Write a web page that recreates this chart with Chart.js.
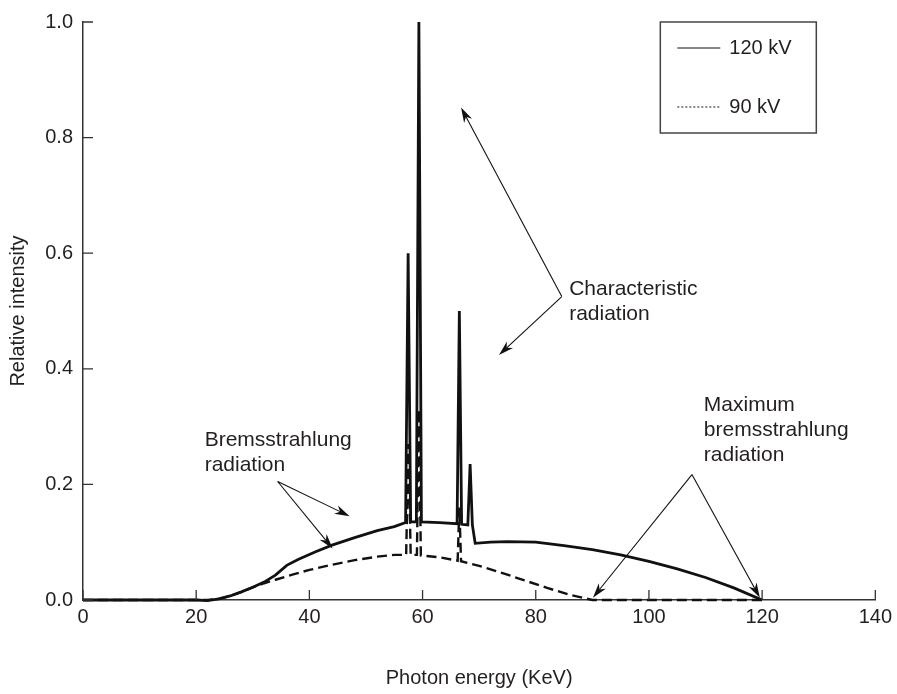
<!DOCTYPE html>
<html>
<head>
<meta charset="utf-8">
<script src="https://cdn.jsdelivr.net/npm/chart.js@4/dist/chart.umd.min.js"></script>
<style>
  html, body { margin: 0; padding: 0; background: #fff; }
  #wrap { width: 897px; height: 694px; }
</style>
</head>
<body>
<div id="wrap"><canvas id="chart" width="897" height="694"></canvas></div>
<script>
// Данные спектра (кэВ / относительная интенсивность)
const energy120 = [0, 20, 22, 24, 26, 28, 30, 32, 34, 36, 38, 41, 44, 48, 52, 55, 57.0, 57.45, 57.9, 58.9, 59.35, 59.8, 63, 66.1, 66.5, 66.9, 68.0, 68.4, 68.8, 69.3, 72, 75, 80, 85, 90, 95, 100, 105, 110, 115, 120];
const intensity120 = [0, 0, -0.001, 0.002, 0.007, 0.014, 0.022, 0.031, 0.043, 0.06, 0.07, 0.083, 0.095, 0.108, 0.12, 0.127, 0.134, 0.6, 0.135, 0.135, 1.0, 0.135, 0.134, 0.132, 0.5, 0.131, 0.13, 0.235, 0.13, 0.098, 0.1, 0.101, 0.1, 0.094, 0.087, 0.078, 0.067, 0.054, 0.039, 0.021, 0.0];

const energy90 = [0, 22, 24, 26, 28, 30, 32, 34, 37, 40, 44, 48, 52, 55, 57.1, 57.5, 57.9, 59.0, 59.35, 59.7, 63, 66.2, 66.5, 66.8, 70, 74, 78, 82, 86, 90, 120];
const intensity90 = [0, 0, 0.002, 0.007, 0.014, 0.022, 0.029, 0.035, 0.044, 0.052, 0.061, 0.069, 0.075, 0.078, 0.078, 0.27, 0.078, 0.078, 0.33, 0.077, 0.074, 0.068, 0.16, 0.067, 0.059, 0.047, 0.034, 0.021, 0.009, 0.0, 0.0];

const seriesLabels = ['120 kV', '90 kV'];
const xTicks = [0, 20, 40, 60, 80, 100, 120, 140];
const yTicks = [0, 0.2, 0.4, 0.6, 0.8, 1.0];

// подписи со стрелками, в координатах данных
const notes = [
  { lines: ['Characteristic', 'radiation'], at: [85.9, 0.538], apex: [84.6, 0.525], tips: [[66.8, 0.852], [73.5, 0.424]] },
  { lines: ['Bremsstrahlung', 'radiation'], at: [21.5, 0.277], apex: [34.4, 0.205], tips: [[47.1, 0.145], [44.1, 0.089]] },
  { lines: ['Maximum', 'bremsstrahlung', 'radiation'], at: [109.7, 0.337], apex: [107.6, 0.217], tips: [[90.1, 0.004], [119.6, 0.004]] }
];

const INK = '#111';
const TEXT = '#231f20';
const FONT = "'Liberation Sans', Arial, Helvetica, sans-serif";

function pts(xs, ys) {
  return xs.map((x, i) => ({ x: x, y: ys[i] }));
}

function arrow(ctx, x0, y0, x1, y1) {
  const a = Math.atan2(y1 - y0, x1 - x0);
  const len = 15, half = 4.5;
  ctx.beginPath();
  ctx.moveTo(x0, y0);
  ctx.lineTo(x1 - Math.cos(a) * len * 0.7, y1 - Math.sin(a) * len * 0.7);
  ctx.stroke();
  ctx.beginPath();
  ctx.moveTo(x1, y1);
  ctx.lineTo(x1 - Math.cos(a) * len - Math.sin(a) * half, y1 - Math.sin(a) * len + Math.cos(a) * half);
  ctx.lineTo(x1 - Math.cos(a) * len * 0.7, y1 - Math.sin(a) * len * 0.7);
  ctx.lineTo(x1 - Math.cos(a) * len + Math.sin(a) * half, y1 - Math.sin(a) * len - Math.cos(a) * half);
  ctx.closePath();
  ctx.fill();
}

// засечки внутрь области графика
const innerTicks = {
  id: 'innerTicks',
  afterDraw(chart) {
    const { ctx, chartArea, scales } = chart;
    ctx.save();
    ctx.strokeStyle = '#333';
    ctx.lineWidth = 1.3;
    ctx.beginPath();
    xTicks.forEach(v => {
      const px = scales.x.getPixelForValue(v);
      ctx.moveTo(px, chartArea.bottom);
      ctx.lineTo(px, chartArea.bottom - 10);
    });
    yTicks.forEach(v => {
      const py = scales.y.getPixelForValue(v);
      ctx.moveTo(chartArea.left, py);
      ctx.lineTo(chartArea.left + 10, py);
    });
    ctx.stroke();
    ctx.restore();
  }
};

// стрелки и подписи
const annotations = {
  id: 'annotations',
  afterDraw(chart) {
    const { ctx, scales } = chart;
    const X = v => scales.x.getPixelForValue(v);
    const Y = v => scales.y.getPixelForValue(v);
    ctx.save();
    ctx.strokeStyle = INK;
    ctx.fillStyle = INK;
    ctx.lineWidth = 1.1;
    notes.forEach(n => {
      n.tips.forEach(t => arrow(ctx, X(n.apex[0]), Y(n.apex[1]), X(t[0]), Y(t[1])));
    });
    ctx.fillStyle = TEXT;
    ctx.font = '21px ' + FONT;
    ctx.textBaseline = 'middle';
    ctx.textAlign = 'left';
    notes.forEach(n => {
      n.lines.forEach((s, i) => ctx.fillText(s, X(n.at[0]), Y(n.at[1]) + i * 25));
    });
    ctx.restore();
  }
};

// легенда в рамке
const boxLegend = {
  id: 'boxLegend',
  afterDraw(chart) {
    const { ctx, chartArea } = chart;
    const right = chartArea.right - 59, top = chartArea.top;
    const left = right - 156, bottom = top + 111;
    ctx.save();
    ctx.fillStyle = '#fff';
    ctx.fillRect(left, top, right - left, bottom - top);
    ctx.strokeStyle = '#444';
    ctx.lineWidth = 1.5;
    ctx.strokeRect(left, top, right - left, bottom - top);
    const rows = [top + 26, top + 85];
    ctx.font = '20px ' + FONT;
    ctx.textBaseline = 'middle';
    chart.data.datasets.forEach((ds, i) => {
      ctx.strokeStyle = INK;
      ctx.lineWidth = 1;
      ctx.setLineDash(i === 0 ? [] : [2, 2]);
      ctx.beginPath();
      ctx.moveTo(left + 17, rows[i]);
      ctx.lineTo(left + 60, rows[i]);
      ctx.stroke();
      ctx.setLineDash([]);
      ctx.fillStyle = TEXT;
      ctx.fillText(ds.label, left + 69, rows[i]);
    });
    ctx.restore();
  }
};

const ctx = document.getElementById('chart').getContext('2d');
new Chart(ctx, {
  type: 'line',
  data: {
    datasets: [
      {
        label: seriesLabels[0],
        data: pts(energy120, intensity120),
        borderColor: INK,
        borderWidth: 2.8,
        pointRadius: 0,
        tension: 0,
        clip: 6
      },
      {
        label: seriesLabels[1],
        data: pts(energy90, intensity90),
        borderColor: INK,
        borderWidth: 2.4,
        borderDash: [10, 5],
        pointRadius: 0,
        tension: 0,
        clip: 6
      }
    ]
  },
  options: {
    responsive: false,
    animation: false,
    layout: { padding: { top: 15, right: 20, left: 0, bottom: 0 } },
    plugins: { legend: { display: false }, tooltip: { enabled: false } },
    scales: {
      x: {
        type: 'linear',
        min: 0, max: 140,
        afterFit: s => { s.height = 94; },
        afterBuildTicks: s => { s.ticks = xTicks.map(v => ({ value: v })); },
        grid: { display: true, drawOnChartArea: false, drawTicks: false },
        border: { display: true, color: '#333', width: 1.5 },
        ticks: { color: TEXT, font: { family: FONT, size: 20 }, padding: 5, maxRotation: 0 },
        title: { display: true, text: 'Photon energy (KeV)', color: TEXT, font: { family: FONT, size: 20 }, padding: { top: 0, bottom: 4 } }
      },
      y: {
        type: 'linear',
        min: 0, max: 1,
        afterFit: s => { s.width = 83; },
        afterBuildTicks: s => { s.ticks = yTicks.map(v => ({ value: v })); },
        grid: { display: true, drawOnChartArea: false, drawTicks: false },
        border: { display: true, color: '#333', width: 1.5 },
        ticks: { color: TEXT, font: { family: FONT, size: 20 }, padding: 10, callback: v => v.toFixed(1) },
        title: { display: true, text: 'Relative intensity', color: TEXT, font: { family: FONT, size: 20 }, padding: { top: 6, bottom: 0 } }
      }
    }
  },
  plugins: [innerTicks, annotations, boxLegend]
});
</script>
</body>
</html>
